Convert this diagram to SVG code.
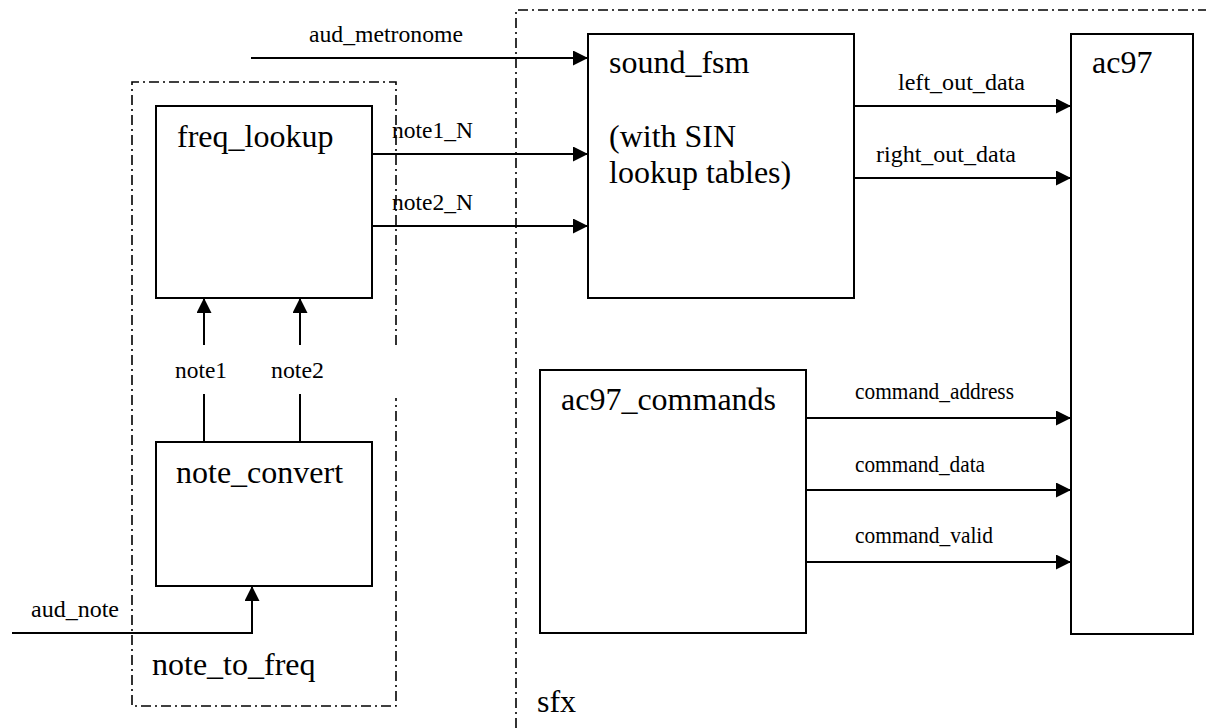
<svg xmlns="http://www.w3.org/2000/svg" width="1206" height="728" viewBox="0 0 1206 728">
<style>
.bg{fill:#fff}
.box{fill:#fff;stroke:#000;stroke-width:2}
.grp{fill:none;stroke:#000;stroke-width:1.6;stroke-dasharray:10 4 2 4}
.wire{fill:none;stroke:#000;stroke-width:2}
.big{font-family:"Liberation Serif","Times New Roman",serif;font-size:32px;fill:#000}
.sml{font-family:"Liberation Serif","Times New Roman",serif;font-size:23px;fill:#000}
</style>
<defs>
<marker id="arr" markerUnits="userSpaceOnUse" markerWidth="15" markerHeight="15" refX="15" refY="7.5" orient="auto">
<path d="M0,0 L15,7.5 L0,15 Z" fill="#000"/>
</marker>
</defs>
<rect class="bg" x="0" y="0" width="1206" height="728"/>
<g id="sfx">
<path class="grp" d="M516,728 V10 H1206"/>
<text class="big" x="537" y="712">sfx</text>
</g>
<g id="note_to_freq">
<path class="grp" d="M396,345 V82 H132 V706 H396 V398"/>
<text class="big" x="152" y="675">note_to_freq</text>
</g>
<g id="freq_lookup">
<rect class="box" x="156" y="106" width="216" height="192"/>
<text class="big" x="177" y="147">freq_lookup</text>
</g>
<g id="note_convert">
<rect class="box" x="156" y="442" width="216" height="144"/>
<text class="big" x="176" y="483">note_convert</text>
</g>
<g id="sound_fsm">
<rect class="box" x="588" y="34" width="266" height="264"/>
<text class="big" x="609" y="73">sound_fsm</text>
<text class="big" x="609" y="147">(with SIN</text>
<text class="big" x="609" y="183">lookup tables)</text>
</g>
<g id="ac97">
<rect class="box" x="1071" y="34" width="122" height="600"/>
<text class="big" x="1092" y="73">ac97</text>
</g>
<g id="ac97_commands">
<rect class="box" x="540" y="370" width="266" height="263"/>
<text class="big" x="561" y="410">ac97_commands</text>
</g>
<g id="connectors">
<path class="wire" d="M251,58 H588" marker-end="url(#arr)"/>
<path class="wire" d="M372,154 H588" marker-end="url(#arr)"/>
<path class="wire" d="M372,226 H588" marker-end="url(#arr)"/>
<path class="wire" d="M854,106 H1071" marker-end="url(#arr)"/>
<path class="wire" d="M854,178 H1071" marker-end="url(#arr)"/>
<path class="wire" d="M806,418 H1071" marker-end="url(#arr)"/>
<path class="wire" d="M806,490 H1071" marker-end="url(#arr)"/>
<path class="wire" d="M806,562 H1071" marker-end="url(#arr)"/>
<path class="wire" d="M204,442 V394"/>
<path class="wire" d="M204,345 V298" marker-end="url(#arr)"/>
<path class="wire" d="M300,442 V394"/>
<path class="wire" d="M300,345 V298" marker-end="url(#arr)"/>
<path class="wire" d="M12,633 H252 V586" marker-end="url(#arr)"/>
<text class="sml" x="309" y="42" textLength="154" lengthAdjust="spacingAndGlyphs">aud_metronome</text>
<text class="sml" x="392" y="138" textLength="81" lengthAdjust="spacingAndGlyphs">note1_N</text>
<text class="sml" x="392" y="210" textLength="81" lengthAdjust="spacingAndGlyphs">note2_N</text>
<text class="sml" x="898" y="90" textLength="127" lengthAdjust="spacingAndGlyphs">left_out_data</text>
<text class="sml" x="876" y="162" textLength="140" lengthAdjust="spacingAndGlyphs">right_out_data</text>
<text class="sml" x="855" y="399" textLength="159" lengthAdjust="spacingAndGlyphs">command_address</text>
<text class="sml" x="855" y="472" textLength="130" lengthAdjust="spacingAndGlyphs">command_data</text>
<text class="sml" x="855" y="543" textLength="138" lengthAdjust="spacingAndGlyphs">command_valid</text>
<text class="sml" x="175" y="378" textLength="52" lengthAdjust="spacingAndGlyphs">note1</text>
<text class="sml" x="271" y="378" textLength="53" lengthAdjust="spacingAndGlyphs">note2</text>
<text class="sml" x="31" y="617" textLength="88" lengthAdjust="spacingAndGlyphs">aud_note</text>
</g>
</svg>
